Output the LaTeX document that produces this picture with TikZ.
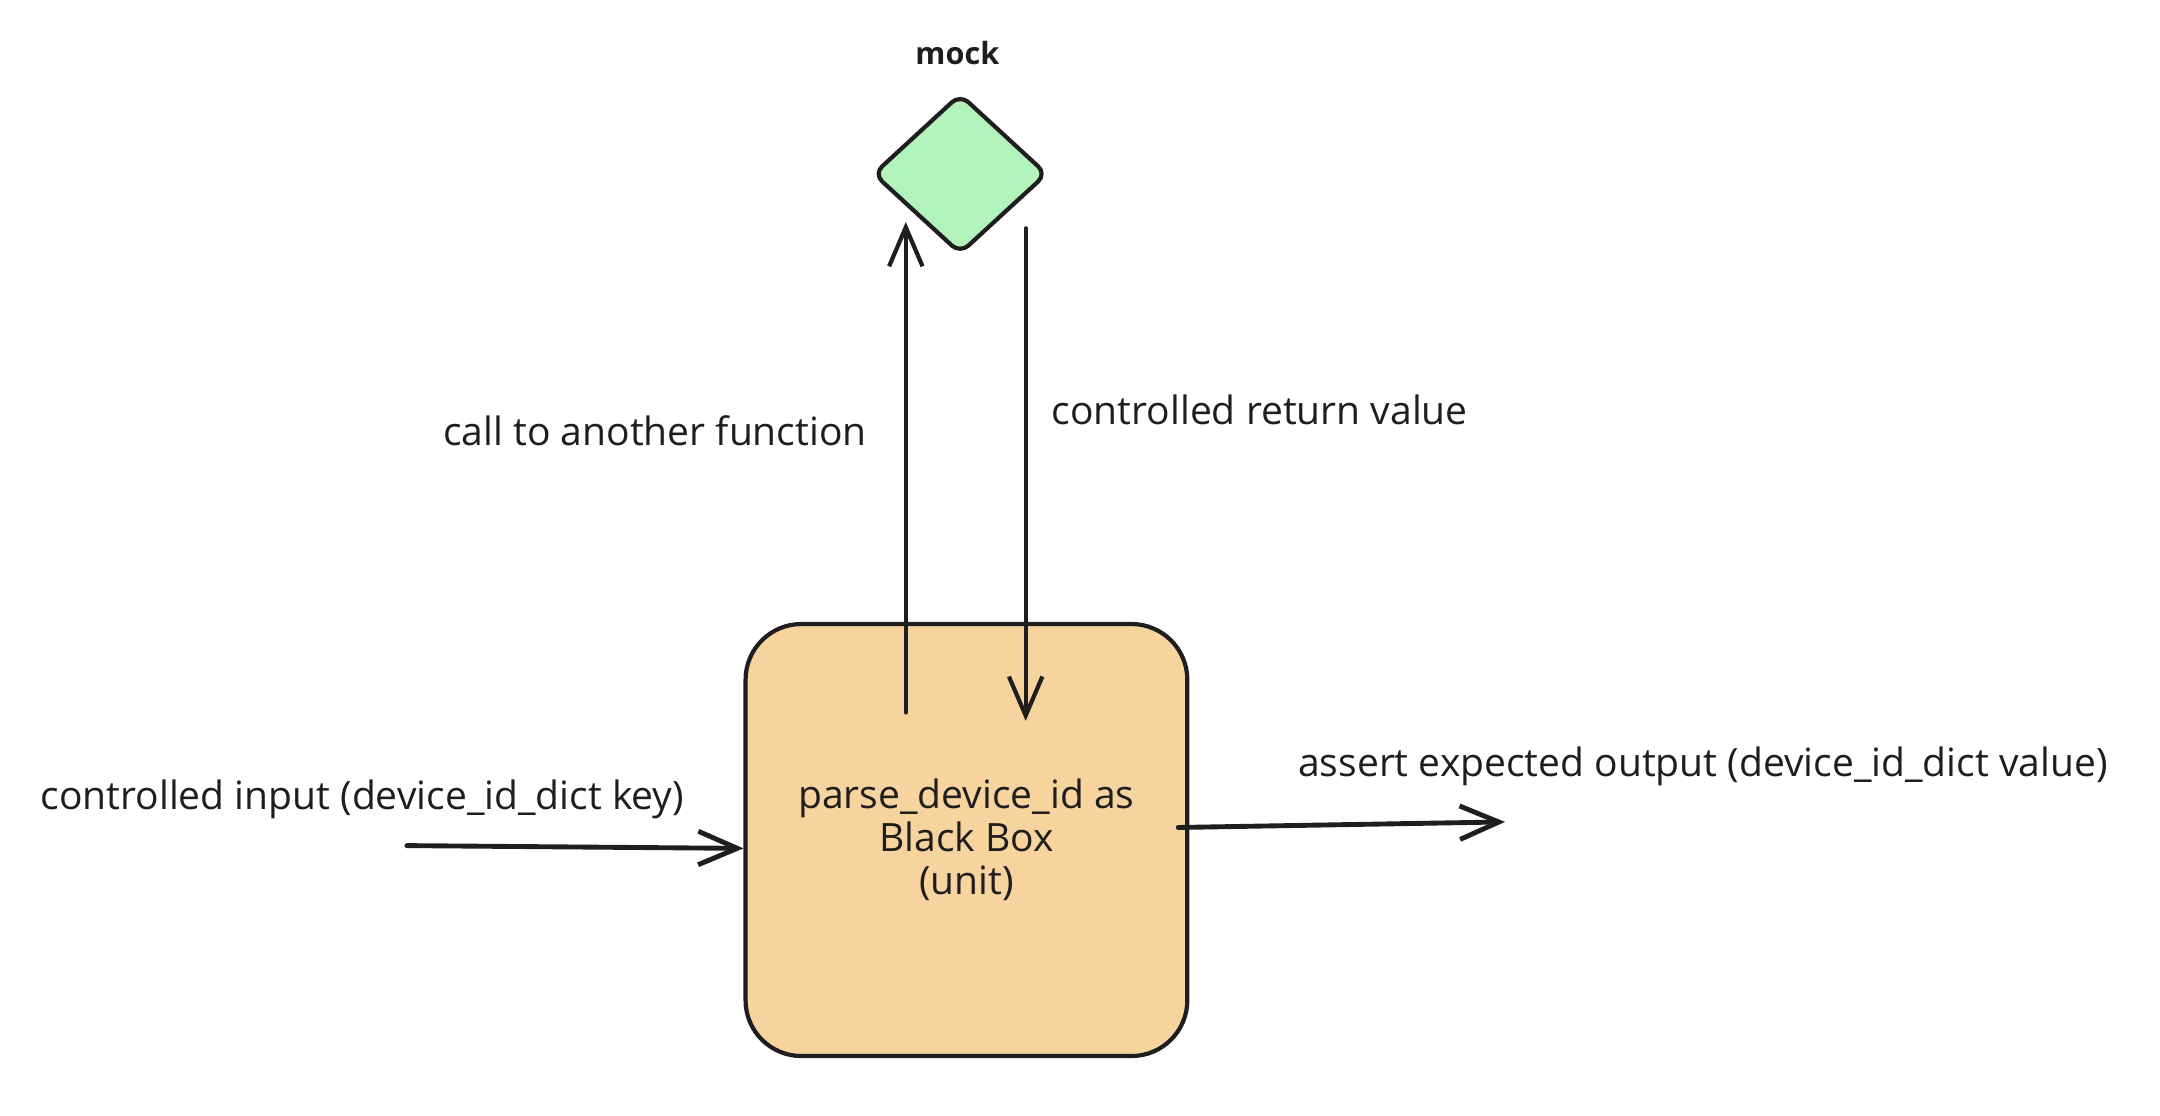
\documentclass[tikz,border=0pt]{standalone}
\usepackage{fontspec}
\setmainfont{Open Sans}
\usetikzlibrary{shapes.geometric,arrows.meta}
\definecolor{boxfill}{RGB}{247,212,158}
\definecolor{mockfill}{RGB}{178,242,187}
\definecolor{ink}{RGB}{30,30,30}

\begin{document}
\begin{tikzpicture}[x=1pt, y=1pt, line width=3pt, line cap=round, >={Straight Barb[length=28pt, width=24pt]},
	every node/.style={text=ink, font=\fontsize{28}{31}\selectfont},
	note/.style={inner sep=0pt},
	flow/.style={->, color=ink}]
	\useasboundingbox (0,0) rectangle (1550,800.8);

	\node[note, font=\fontsize{22}{26}\selectfont\bfseries] (mocktitle) at (687,763) {mock};
	\node[diamond, draw=ink, fill=mockfill, minimum width=125pt, minimum height=115pt, inner sep=0pt, rounded corners=8pt] (mock) at (689,676) {};
	\node[draw=ink, fill=boxfill, rounded corners=40pt, minimum width=317pt, minimum height=310pt, align=center] (blackbox) at (693.5,198) {parse\_device\_id as\\Black Box\\(unit)};

	\coordinate (in) at (292,194);
	\coordinate (out) at (1080,211);

	\path [flow] ([xshift=-43.5pt, yshift=-65pt]blackbox.north) edge ([xshift=-39pt, yshift=24.5pt]mock.south);
	\path [flow] ([xshift=47pt, yshift=20pt]mock.south) edge ([xshift=42.5pt, yshift=-71pt]blackbox.north);
	\path [flow, line width=3.5pt] (in) edge ([yshift=-6pt]blackbox.west);
	\path [flow, line width=3.5pt] ([xshift=-8pt, yshift=9pt]blackbox.east) edge (out);

	\node[note] (calllabel) at (470,492) {call to another function};
	\node[note] (returnlabel) at (904,507) {controlled return value};
	\node[note] (inlabel) at (260,227) {controlled input (device\_id\_dict key)};
	\node[note] (outlabel) at (1222,251) {assert expected output (device\_id\_dict value)};
\end{tikzpicture}
\end{document}
